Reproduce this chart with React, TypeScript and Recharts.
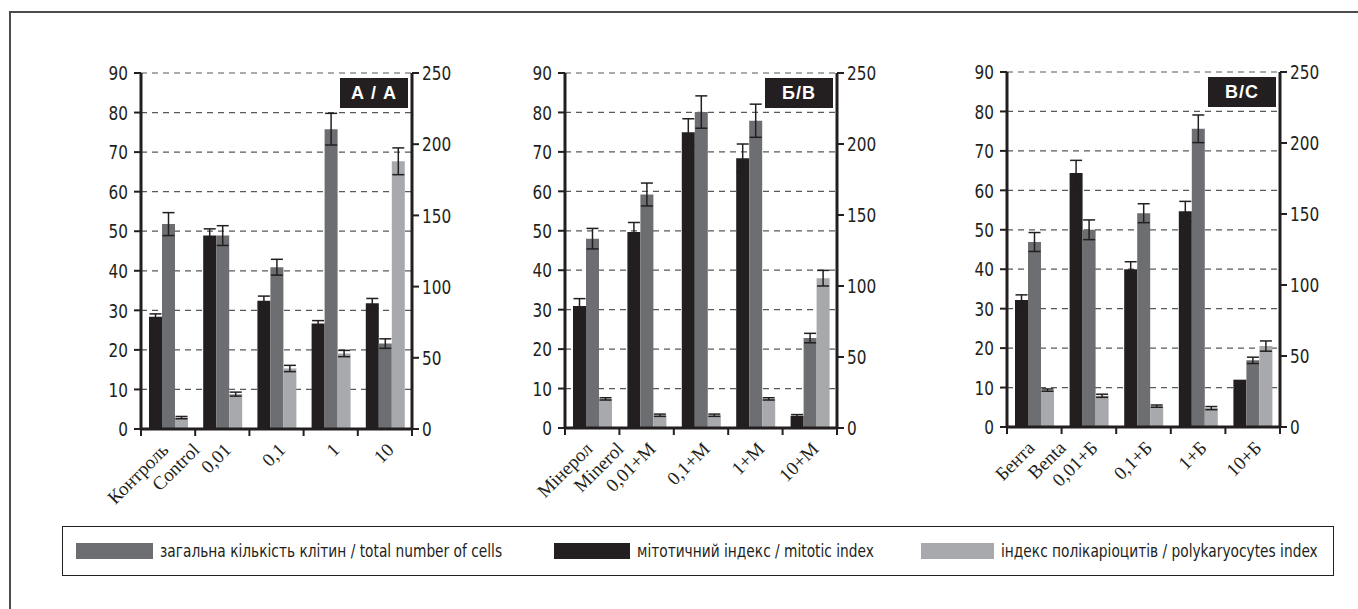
import React from 'react';
import { BarChart, Bar, XAxis, YAxis, CartesianGrid, ErrorBar } from 'recharts';

const INK = '#231f20';
const DARK = '#6d6e71';
const LIGHT = '#a7a9ac';
const GRID = '#58595b';
const NARROW = "'Liberation Sans Narrow', 'DejaVu Sans Condensed', 'Arial Narrow', sans-serif";
const SERIF = "'Liberation Serif', 'DejaVu Serif', serif";

const leftTicks = [0, 10, 20, 30, 40, 50, 60, 70, 80, 90];
const rightTicks = [0, 50, 100, 150, 200, 250];

// panel А / A
const labelsA = [['Контроль', 'Control'], ['0,01'], ['0,1'], ['1'], ['10']];
const mitoticA = [28.4, 48.9, 32.4, 26.7, 31.8];
const mitoticErrA = [0.7, 1.7, 1.2, 0.7, 1.2];
const totalA = [51.8, 48.9, 40.9, 75.8, 21.6];
const totalErrA = [2.9, 2.5, 2.0, 4.0, 1.2];
const polyA = [8, 24.5, 42.5, 53, 188];
const polyErrA = [0.8, 1.4, 2.2, 2.2, 9.4];

// panel Б / B
const labelsB = [['Мінерол', 'Minerol'], ['0,01+М'], ['0,1+М'], ['1+М'], ['10+М']];
const mitoticB = [30.9, 49.7, 75.0, 68.4, 3.1];
const mitoticErrB = [1.9, 2.4, 3.4, 3.6, 0.3];
const totalB = [48.0, 59.2, 80.1, 77.9, 22.8];
const totalErrB = [2.6, 2.9, 4.1, 4.2, 1.2];
const polyB = [20.5, 9, 9, 20.5, 105.5];
const polyErrB = [0.8, 0.8, 0.8, 0.8, 5.5];

// panel В / C
const labelsC = [['Бента', 'Benta'], ['0,01+Б'], ['0,1+Б'], ['1+Б'], ['10+Б']];
const mitoticC = [32.2, 64.4, 40.0, 54.7, 12.0];
const mitoticErrC = [1.3, 3.2, 1.9, 2.5, 0];
const totalC = [46.9, 50.0, 54.2, 75.6, 16.9];
const totalErrC = [2.4, 2.5, 2.4, 3.5, 0.8];
const polyC = [26, 22, 14.7, 13.3, 57];
const polyErrC = [0.8, 1.1, 0.8, 1.1, 3.6];

const legendItems = [
  { name: 'загальна кількість клітин / total number of cells', color: DARK },
  { name: 'мітотичний індекс / mitotic index', color: INK },
  { name: 'індекс полікаріоцитів / polykaryocytes index', color: LIGHT },
];

const buildRows = (labels, mitotic, mitoticErr, total, totalErr, poly, polyErr) =>
  labels.map((l, i) => ({
    name: l.join(' '),
    mitotic: mitotic[i],
    mitoticErr: mitoticErr[i],
    total: total[i],
    totalErr: totalErr[i],
    poly: poly[i],
    polyErr: polyErr[i],
  }));

const panels = [
  { title: 'А / A', labels: labelsA, rows: buildRows(labelsA, mitoticA, mitoticErrA, totalA, totalErrA, polyA, polyErrA) },
  { title: 'Б/B', labels: labelsB, rows: buildRows(labelsB, mitoticB, mitoticErrB, totalB, totalErrB, polyB, polyErrB) },
  { title: 'В/C', labels: labelsC, rows: buildRows(labelsC, mitoticC, mitoticErrC, totalC, totalErrC, polyC, polyErrC) },
];

// plot-area boxes (left, top, width, height)
const plotBoxes = [
  { x: 141, y: 73, w: 271, h: 356 },
  { x: 565, y: 73, w: 272, h: 355 },
  { x: 1007, y: 72, w: 273, h: 355 },
];
const AXIS_W = 60;
const TOP_PAD = 10;
const XAXIS_H = 110;
const legendSwatches = [
  { x: 76, w: 77 },
  { x: 554, w: 76 },
  { x: 921, w: 73 },
];

const XTick = (props) => {
  const { x, y, index, labels, band } = props;
  const lines = labels[index] || [];
  const px = x + 10;
  const py = y + 22;
  return (
    <g>
      <line x1={x - band / 2} x2={x - band / 2} y1={y} y2={y + 7} stroke={INK} strokeWidth={2} />
      {index === labels.length - 1 && (
        <line x1={x + band / 2} x2={x + band / 2} y1={y} y2={y + 7} stroke={INK} strokeWidth={2} />
      )}
      <text
        transform={`rotate(-45, ${px}, ${py})`}
        textAnchor="end"
        fontFamily={SERIF}
        fontSize={19}
        fill={INK}
      >
        {lines.length === 1 ? (
          <tspan x={px} y={py}>{lines[0]}</tspan>
        ) : (
          <>
            <tspan x={px - 6} y={py - 6}>{lines[0]}</tspan>
            <tspan x={px + 16} y={py + 16}>{lines[1]}</tspan>
          </>
        )}
      </text>
    </g>
  );
};

// narrow digits like the original condensed face
const YTick = ({ x, y, payload, textAnchor }) => (
  <text
    transform={`translate(${x}, ${y}) scale(0.85, 1)`}
    textAnchor={textAnchor}
    dy="0.36em"
    fontFamily={NARROW}
    fontSize={20}
    fill={INK}
  >
    {payload.value}
  </text>
);

function Panel({ panel, box }) {
  const width = box.w + AXIS_W * 2;
  const height = TOP_PAD + box.h + XAXIS_H;
  const band = box.w / panel.rows.length;
  return (
    <div style={{ position: 'absolute', left: box.x - AXIS_W, top: box.y - TOP_PAD, width, height }}>
      <BarChart
        width={width}
        height={height}
        data={panel.rows}
        margin={{ top: TOP_PAD, right: 0, bottom: 0, left: 0 }}
        barGap={0}
        barCategoryGap={8}
      >
        <CartesianGrid yAxisId="left" vertical={false} stroke={GRID} strokeDasharray="6 5" strokeWidth={1.2} />
        <XAxis
          dataKey="name"
          height={XAXIS_H}
          interval={0}
          tickSize={0}
          tickMargin={0}
          axisLine={{ stroke: INK, strokeWidth: 3 }}
          tickLine={false}
          tick={<XTick labels={panel.labels} band={band} />}
        />
        <YAxis
          yAxisId="left"
          width={AXIS_W}
          domain={[0, 90]}
          ticks={leftTicks}
          interval={0}
          axisLine={{ stroke: INK, strokeWidth: 3 }}
          tickLine={{ stroke: INK, strokeWidth: 2 }}
          tickSize={7}
          tickMargin={6}
          tick={<YTick />}
        />
        <YAxis
          yAxisId="right"
          orientation="right"
          width={AXIS_W}
          domain={[0, 250]}
          ticks={rightTicks}
          interval={0}
          axisLine={{ stroke: INK, strokeWidth: 3 }}
          tickLine={{ stroke: INK, strokeWidth: 2 }}
          tickSize={7}
          tickMargin={3}
          tick={<YTick />}
        />
        <Bar yAxisId="left" dataKey="mitotic" fill={INK} isAnimationActive={false}>
          <ErrorBar dataKey="mitoticErr" width={6} stroke={INK} strokeWidth={1.5} direction="y" />
        </Bar>
        <Bar yAxisId="left" dataKey="total" fill={DARK} isAnimationActive={false}>
          <ErrorBar dataKey="totalErr" width={6} stroke={INK} strokeWidth={1.5} direction="y" />
        </Bar>
        <Bar yAxisId="right" dataKey="poly" fill={LIGHT} isAnimationActive={false}>
          <ErrorBar dataKey="polyErr" width={6} stroke={INK} strokeWidth={1.5} direction="y" />
        </Bar>
      </BarChart>
      <div
        style={{
          position: 'absolute',
          left: AXIS_W + box.w - 72,
          top: TOP_PAD + 5,
          width: 68,
          height: 30,
          background: INK,
          color: '#fff',
          fontFamily: "'Liberation Sans', Arial, sans-serif",
          fontWeight: 700,
          fontSize: 18,
          lineHeight: '30px',
          textAlign: 'center',
          letterSpacing: 1,
        }}
      >
        {panel.title}
      </div>
    </div>
  );
}

export default function App() {
  return (
    <div style={{ position: 'absolute', left: 0, top: 0, width: 1358, height: 609, background: '#fff', overflow: 'hidden' }}>
      <div
        style={{
          position: 'absolute',
          left: 9,
          top: 11,
          width: 1400,
          height: 700,
          borderTop: '2px solid #4d4d4d',
          borderLeft: '2px solid #4d4d4d',
        }}
      />
      {panels.map((p, i) => (
        <Panel key={i} panel={p} box={plotBoxes[i]} />
      ))}
      <div
        style={{
          position: 'absolute',
          left: 62,
          top: 526,
          width: 1272,
          height: 50,
          border: `1px solid ${INK}`,
          boxSizing: 'border-box',
        }}
      />
      {legendItems.map((item, i) => (
        <div key={i}>
          <div
            style={{
              position: 'absolute',
              left: legendSwatches[i].x,
              top: 543,
              width: legendSwatches[i].w,
              height: 16,
              background: item.color,
            }}
          />
          <div
            style={{
              position: 'absolute',
              left: legendSwatches[i].x + legendSwatches[i].w + 7,
              top: 540,
              height: 22,
              lineHeight: '22px',
              fontFamily: NARROW,
              fontSize: 18,
              color: INK,
              whiteSpace: 'nowrap',
              transform: 'scaleX(0.85)',
              transformOrigin: 'left center',
            }}
          >
            {item.name}
          </div>
        </div>
      ))}
    </div>
  );
}
